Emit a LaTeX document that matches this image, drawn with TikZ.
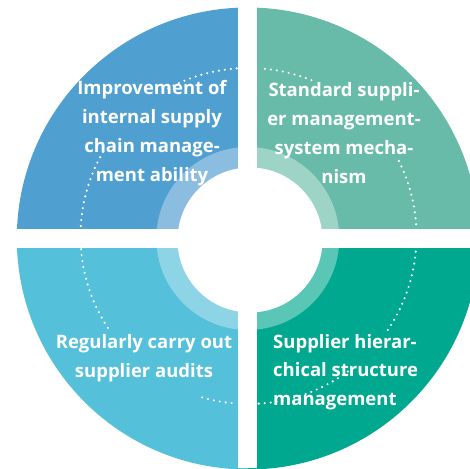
\documentclass[tikz,border=0pt]{standalone}
\usepackage{fontspec}
\setmainfont{Open Sans}
\usetikzlibrary{calc}
\definecolor{qtl}{RGB}{79,159,209}
\definecolor{qtllight}{RGB}{138,189,224}
\definecolor{qtr}{RGB}{104,187,168}
\definecolor{qtrlight}{RGB}{157,212,197}
\definecolor{qbl}{RGB}{84,192,218}
\definecolor{qbllight}{RGB}{141,212,230}
\definecolor{qbr}{RGB}{0,168,144}
\definecolor{qbrlight}{RGB}{90,198,181}
\tikzset{
  dotarc/.style={white, line width=2.4pt, line cap=round, dash pattern=on 0pt off 6pt},
  quadtext/.style={text=white, font=\fontsize{18.5}{28.8}\selectfont\bfseries, inner sep=0pt},
}
\begin{document}
\begin{tikzpicture}[x=1pt,y=1pt]
\useasboundingbox (0,0) rectangle (470,468);
\coordinate (C) at (247.8,229.5);
\coordinate (W) at (250,228);
\coordinate (D) at (248.5,232);
% outer sectors
\fill[qtr] (C) -- ++(0:231) arc[start angle=0,end angle=90,radius=231] -- cycle;
\fill[qtl] (C) -- ++(90:231) arc[start angle=90,end angle=180,radius=231] -- cycle;
\fill[qbl] (C) -- ++(180:231) arc[start angle=180,end angle=270,radius=231] -- cycle;
\fill[qbr] (C) -- ++(270:231) arc[start angle=270,end angle=360,radius=231] -- cycle;
% light ring sectors
\fill[qtrlight] (C) -- ++(0:91.5) arc[start angle=0,end angle=90,radius=91.5] -- cycle;
\fill[qtllight] (C) -- ++(90:91.5) arc[start angle=90,end angle=180,radius=91.5] -- cycle;
\fill[qbllight] (C) -- ++(180:91.5) arc[start angle=180,end angle=270,radius=91.5] -- cycle;
\fill[qbrlight] (C) -- ++(270:91.5) arc[start angle=270,end angle=360,radius=91.5] -- cycle;
% white centre
\fill[white] (W) circle[radius=72.5];
% white cross bands
\fill[white] (238.3,0) rectangle (257.3,468);
\fill[white] (0,219.7) rectangle (470,238.7);
% dotted arcs
\draw[dotarc] ($(D)+(94:168)$) arc[start angle=94,end angle=122,radius=168];
\draw[dotarc] ($(D)+(150:168)$) arc[start angle=150,end angle=177,radius=168];
\draw[dotarc] ($(D)+(4:168)$) arc[start angle=4,end angle=28,radius=168];
\draw[dotarc] ($(D)+(68:168)$) arc[start angle=68,end angle=86,radius=168];
\draw[dotarc] ($(D)+(184.5:168)$) arc[start angle=184.5,end angle=214,radius=168];
\draw[dotarc] ($(D)+(254:168)$) arc[start angle=254,end angle=266,radius=168];
\draw[dotarc] ($(D)+(273.5:168)$) arc[start angle=273.5,end angle=307,radius=168];
\draw[dotarc] ($(D)+(326:168)$) arc[start angle=326,end angle=355.5,radius=168];
% texts
\node[quadtext, align=center] (tl) at (152,335) {Improvement of\\internal supply\\chain manage-\\ment ability};
\node[quadtext, align=center] (tr) at (344,335) {Standard suppli-\\er management-\\system mecha-\\nism};
\node[quadtext, align=center] (bl) at (144,110) {Regularly carry out\\supplier audits};
\node[quadtext, align=left, anchor=west] (br) at (273,96) {Supplier hierar-\\chical structure\\management};
\end{tikzpicture}
\end{document}
